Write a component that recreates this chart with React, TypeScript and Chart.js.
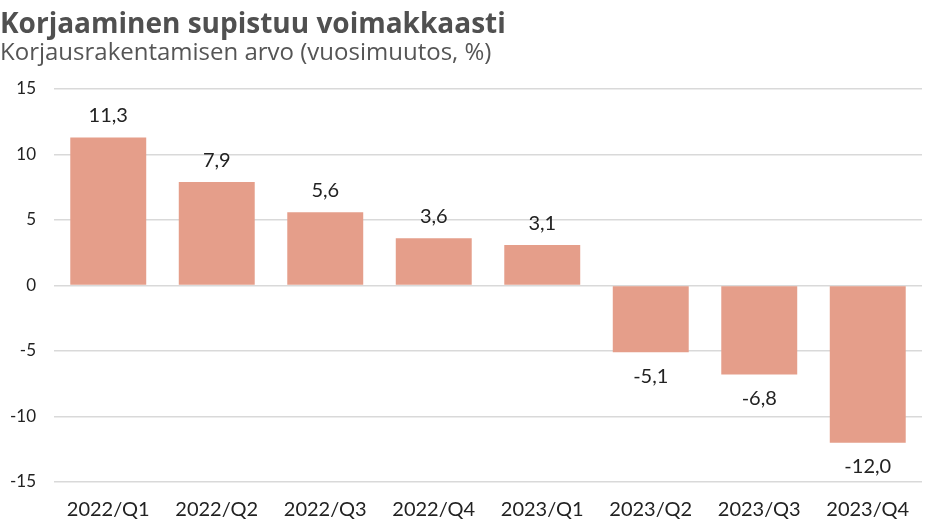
import React, { useEffect, useRef } from "react";
import { Chart, registerables, type Plugin } from "chart.js";

Chart.register(...registerables);

const quarters = [
  "2022/Q1",
  "2022/Q2",
  "2022/Q3",
  "2022/Q4",
  "2023/Q1",
  "2023/Q2",
  "2023/Q3",
  "2023/Q4",
];
const changes = [11.3, 7.9, 5.6, 3.6, 3.1, -5.1, -6.8, -12.0];
const yTicks = [-15, -10, -5, 0, 5, 10, 15];

const fmt = (v: number) => v.toFixed(1).replace(".", ",");

// value labels above positive bars and below negative ones
const barLabels: Plugin<"bar"> = {
  id: "barLabels",
  afterDatasetsDraw(chart) {
    const { ctx } = chart;
    const meta = chart.getDatasetMeta(0);
    ctx.save();
    ctx.font = "20px Lato";
    ctx.fillStyle = "#222";
    ctx.textAlign = "center";
    ctx.textBaseline = "alphabetic";
    meta.data.forEach((bar, i) => {
      const v = changes[i];
      const y = v >= 0 ? bar.y - 15 : bar.y + 30.5;
      ctx.fillText(fmt(v), bar.x, y);
    });
    ctx.restore();
  },
};

const App: React.FC = () => {
  const canvasRef = useRef<HTMLCanvasElement>(null);

  useEffect(() => {
    document.body.style.margin = "0";
    if (!canvasRef.current) return;
    const ctx = canvasRef.current.getContext("2d");
    if (!ctx) return;

    const chart = new Chart(ctx, {
      type: "bar",
      data: {
        labels: quarters,
        datasets: [
          {
            data: changes,
            backgroundColor: "#E59E8A",
            barPercentage: 0.7,
            categoryPercentage: 1,
          },
        ],
      },
      options: {
        animation: false,
        responsive: true,
        maintainAspectRatio: false,
        layout: { padding: { left: 0, right: 24, top: 8, bottom: 10 } },
        plugins: {
          legend: { display: false },
          tooltip: { enabled: false },
          title: {
            display: true,
            text: "Korjaaminen supistuu voimakkaasti",
            align: "start",
            color: "#505050",
            font: { family: "Open Sans", size: 28, weight: "bold" },
            padding: { top: 0, bottom: 0, left: 10 } as any,
          },
          subtitle: {
            display: true,
            text: "Korjausrakentamisen arvo (vuosimuutos, %)",
            align: "start",
            color: "#555",
            font: { family: "Open Sans", size: 24, lineHeight: 1 },
            padding: { top: 0, bottom: 23.4 },
          },
        },
        scales: {
          x: {
            grid: { display: false, drawTicks: false },
            border: { display: false },
            afterFit: (axis) => {
              axis.height = 40;
            },
            ticks: {
              color: "#222",
              font: { family: "Lato", size: 20 },
              padding: 16,
              maxRotation: 0,
              autoSkip: false,
            },
          },
          y: {
            min: -15,
            max: 15,
            afterBuildTicks: (axis) => {
              axis.ticks = yTicks.map((value) => ({ value }));
            },
            afterFit: (axis) => {
              axis.width = 54;
            },
            grid: { color: "#d9d9d9", lineWidth: 1.5, drawTicks: false },
            border: { display: false },
            ticks: {
              color: "#222",
              font: { family: "Lato", size: 17 },
              padding: 18,
            },
          },
        },
      },
      plugins: [barLabels],
    });

    return () => chart.destroy();
  }, []);

  return (
    <div style={{ width: 946, height: 532, position: "relative" }}>
      <canvas ref={canvasRef} />
    </div>
  );
};

export default App;
